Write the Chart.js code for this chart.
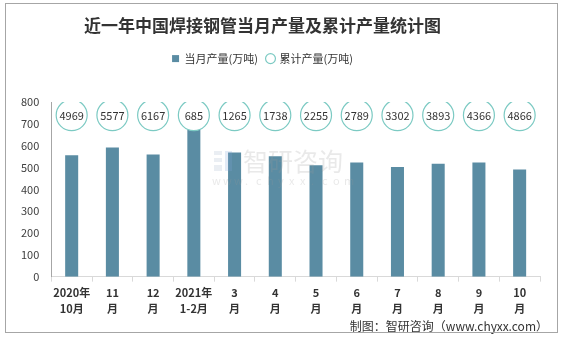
<!DOCTYPE html>
<html>
<head>
<meta charset="utf-8">
<script src="https://cdn.jsdelivr.net/npm/chart.js@4/dist/chart.umd.min.js"></script>
<style>
  html, body { margin: 0; padding: 0; background: #ffffff; }
  #wrap { width: 563px; height: 337px; position: relative; }
</style>
</head>
<body>
<div id="wrap"><canvas id="c" width="563" height="337"></canvas></div>
<script>
// ---- data ----
const categoryTop    = ['2020年', '11', '12', '2021年', '3', '4', '5', '6', '7', '8', '9', '10'];
const categoryBottom = ['10月', '月', '月', '1-2月', '月', '月', '月', '月', '月', '月', '月', '月'];
const monthlyOutput    = [556, 592, 560, 680, 569, 552, 510, 523, 503, 518, 523, 491];
const cumulativeOutput = [4969, 5577, 6167, 685, 1265, 1738, 2255, 2789, 3302, 3893, 4366, 4866];
const yTicks = [0, 100, 200, 300, 400, 500, 600, 700, 800];

// level (on the value axis) where the cumulative badges sit
const BADGE_LEVEL = 740;

const labels = categoryTop.map((t, i) => [t, categoryBottom[i]]);
const FONT = "'Noto Sans CJK SC', 'Noto Sans', sans-serif";

const badgeText = {
  id: 'badgeText',
  afterDatasetsDraw(chart) {
    const meta = chart.getDatasetMeta(1);
    const ctx = chart.ctx;
    ctx.save();
    ctx.font = '11px ' + FONT;
    ctx.fillStyle = '#333333';
    ctx.textAlign = 'center';
    ctx.textBaseline = 'middle';
    meta.data.forEach((pt, i) => {
      ctx.fillText(String(cumulativeOutput[i]), pt.x, pt.y + 0.5);
    });
    ctx.restore();
  }
};

const decorations = {
  id: 'decorations',
  beforeInit(chart) {
    const legend = chart.legend;
    if (legend) {
      const origFit = legend.fit;
      legend.fit = function () {
        origFit.call(this);
        this.height += 28;
      };
    }
  },
  afterLayout(chart) {
    // title and legend are centred a little left of the canvas centre
    [chart.titleBlock, chart.legend].forEach(b => {
      if (b) { b.left -= 12; b.right -= 12; }
    });
  },
  afterDatasetsDraw(chart) {
    const ctx = chart.ctx;
    ctx.save();
    // watermark
    ctx.globalAlpha = 0.22;
    ctx.fillStyle = '#9fb3c8';
    ctx.fillRect(214, 151, 8, 4);
    ctx.fillRect(214, 158, 8, 4);
    ctx.fillRect(214, 165, 8, 6);
    ctx.fillStyle = '#7fa6d6';
    ctx.fillRect(225, 151, 7, 20);
    ctx.fillStyle = '#9a9a9a';
    ctx.font = '25px ' + FONT;
    ctx.textAlign = 'left';
    ctx.textBaseline = 'middle';
    ctx.fillText('智研咨询', 243, 161);
    ctx.font = '11px ' + FONT;
    const w = 'www.chyxx.com';
    for (let i = 0; i < w.length; i++) {
      ctx.fillText(w[i], 212 + i * 11, 181);
    }
    ctx.restore();
  },
  afterDraw(chart) {
    const ctx = chart.ctx;
    ctx.save();
    ctx.fillStyle = '#333333';
    ctx.font = '12px ' + FONT;
    ctx.textAlign = 'right';
    ctx.textBaseline = 'middle';
    ctx.fillText('制图：智研咨询（www.chyxx.com）', 548, 326);
    ctx.strokeStyle = '#a6a6a6';
    ctx.lineWidth = 1;
    ctx.strokeRect(5.5, 3.5, 552, 329);
    ctx.restore();
  }
};

new Chart(document.getElementById('c'), {
  data: {
    labels: labels,
    datasets: [
      {
        type: 'bar',
        label: '当月产量(万吨)',
        data: monthlyOutput,
        backgroundColor: '#5a8ca3',
        borderWidth: 0,
        barPercentage: 0.32,
        categoryPercentage: 1.0,
        pointStyle: 'rect',
        order: 2
      },
      {
        type: 'line',
        label: '累计产量(万吨)',
        data: cumulativeOutput.map(() => BADGE_LEVEL),
        showLine: false,
        pointStyle: 'circle',
        pointRadius: 15.5,
        pointHoverRadius: 15.5,
        pointBackgroundColor: '#ffffff',
        pointBorderColor: '#7ccac3',
        pointBorderWidth: 1.2,
        backgroundColor: '#ffffff',
        borderColor: '#7ccac3',
        borderWidth: 1.2,
        order: 1
      }
    ]
  },
  options: {
    responsive: false,
    animation: false,
    events: [],
    layout: { padding: { left: 9, right: 23, top: 4, bottom: 17 } },
    plugins: {
      title: {
        display: true,
        text: '近一年中国焊接钢管当月产量及累计产量统计图',
        color: '#333333',
        font: { family: FONT, size: 17, weight: 'bold', lineHeight: 1.3 },
        padding: { top: 10, bottom: 8 }
      },
      legend: {
        display: true,
        position: 'top',
        labels: {
          usePointStyle: true,
          boxHeight: 7,
          boxWidth: 7,
          padding: 9,
          color: '#333333',
          font: { family: FONT, size: 11 },
          sort: (a, b) => a.datasetIndex - b.datasetIndex
        }
      },
      tooltip: { enabled: false }
    },
    scales: {
      x: {
        offset: true,
        grid: {
          display: true,
          drawOnChartArea: false,
          drawTicks: true,
          tickLength: 5,
          color: '#d9d9d9',
          offset: true
        },
        border: { display: true, color: '#d9d9d9' },
        ticks: {
          color: '#333333',
          padding: 4,
          maxRotation: 0,
          autoSkip: false,
          font: { family: FONT, size: 11, weight: 'bold', lineHeight: 1.38 }
        }
      },
      y: {
        min: 0,
        max: 800,
        afterBuildTicks(scale) { scale.ticks = yTicks.map(v => ({ value: v })); },
        grid: { display: false, drawTicks: false },
        border: { display: true, color: '#a6a6a6' },
        ticks: {
          color: '#404040',
          padding: 12,
          font: { family: FONT, size: 11 }
        }
      }
    }
  },
  plugins: [badgeText, decorations]
});
</script>
</body>
</html>
